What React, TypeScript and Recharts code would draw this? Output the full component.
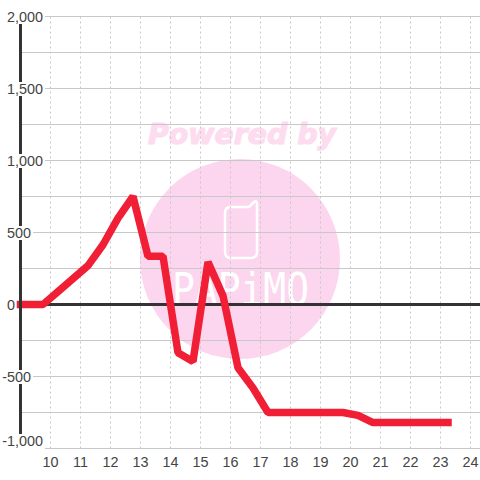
import React from "react";
import {
  LineChart,
  Line,
  XAxis,
  YAxis,
  CartesianGrid,
  ReferenceLine,
} from "recharts";

const hours = [
  9, 9.75, 10.25, 10.75, 11.25, 11.75, 12.25, 12.75, 13.25, 13.75, 14.25, 14.75,
  15.25, 15.75, 16.25, 16.75, 17.25, 17.75, 18.25, 18.75, 19.25, 19.75, 20.25,
  20.75, 21.25, 21.75, 22.25, 22.75, 23.25,
];
const balance = [
  0, 0, 90, 180, 270, 415, 600, 750, 335, 335, -335, -395, 295, 60, -440, -580,
  -750, -750, -750, -750, -750, -750, -770, -820, -820, -820, -820, -820, -820,
];
const xTicks = [10, 11, 12, 13, 14, 15, 16, 17, 18, 19, 20, 21, 22, 23, 24];
const yTicks = [
  -1000, -750, -500, -250, 0, 250, 500, 750, 1000, 1250, 1500, 1750, 2000,
];
const yLabels = [-1000, -500, 0, 500, 1000, 1500, 2000];

const data = hours.map((hour, i) => ({ hour, balance: balance[i] }));

const FONT = "'Liberation Sans', Arial, sans-serif";

const YTick = ({ y, payload }: any) => {
  const value = payload.value;
  if (!yLabels.includes(value)) return null;
  const text = value.toLocaleString("en-US");
  const digits = text.replace(/[^0-9]/g, "").length;
  const width = digits * 8 + (text.includes(",") ? 4 : 0);
  const cy = value === -1000 ? y - 7.5 : y + 0.5;
  return (
    <g>
      {value !== 0 && (
        <rect
          x={0}
          y={cy - 7}
          width={7 + width + 2}
          height={value === -1000 ? 15 : 14}
          fill='#fff'
        />
      )}
      <text
        x={value < 0 ? 2.2 : 7}
        y={cy + 5}
        fontFamily={FONT}
        fontSize={14.4}
        fill='#444'
        textAnchor='start'
      >
        {text}
      </text>
    </g>
  );
};

const Watermark = () => (
  <svg
    width={480}
    height={480}
    style={{ position: "absolute", left: 0, top: 0 }}
  >
    <circle cx={240} cy={259} r={100} fill='#fcd6ee' />
    <text
      x={148}
      y={144}
      fontFamily="'DejaVu Sans'"
      fontWeight='bold'
      fontStyle='italic'
      fontSize={28}
      textLength={188}
      lengthAdjust='spacingAndGlyphs'
      fill='#fddcef'
      stroke='#fddcef'
      strokeWidth={1.2}
    >
      Powered by
    </text>
    <path
      d='M231 207 H249 L254 202 Q257 200 257 204 V252 Q257 258 251 258 H231 Q225 258 225 252 V213 Q225 207 231 207 Z'
      fill='none'
      stroke='#fff'
      strokeWidth={2.5}
    />
    <text
      x={172}
      y={305}
      fontFamily="'DejaVu Sans Mono'"
      fontSize={44}
      textLength={137}
      lengthAdjust='spacingAndGlyphs'
      fill='#fff'
    >
      PAPiMO
    </text>
  </svg>
);

const App = () => {
  return (
    <div
      style={{
        position: "absolute",
        left: 0,
        top: 0,
        width: 480,
        height: 480,
        background: "#fff",
      }}
    >
      <Watermark />
      <div style={{ position: "absolute", left: 0, top: 0 }}>
        <LineChart
          width={480}
          height={480}
          data={data}
          margin={{ top: 16.5, right: 0, left: 0, bottom: 0 }}
        >
          <CartesianGrid
            vertical={false}
            stroke='#c8c8c8'
            horizontalValues={yTicks}
          />
          <CartesianGrid
            horizontal={false}
            stroke='#c8c8c8'
            strokeDasharray='2 3'
            verticalValues={xTicks}
          />
          <XAxis
            type='number'
            dataKey='hour'
            domain={[9, 24.317]}
            ticks={xTicks}
            interval={0}
            height={31.5}
            axisLine={false}
            tickLine={false}
            tick={{ fontFamily: FONT, fontSize: 14.4, fill: "#444", dy: 0 }}
          />
          <YAxis
            type='number'
            domain={[-1000, 2000]}
            ticks={yTicks}
            interval={0}
            width={20.5}
            tickLine={false}
            axisLine={{ stroke: "#333", strokeWidth: 3 }}
            tick={<YTick />}
          />
          <ReferenceLine y={0} stroke='#333' strokeWidth={3} />
          <Line
            type='linear'
            dataKey='balance'
            stroke='#f01f35'
            strokeWidth={7.5}
            strokeLinecap='square'
            strokeLinejoin='bevel'
            dot={false}
            activeDot={false}
            isAnimationActive={false}
          />
        </LineChart>
      </div>
    </div>
  );
};

export default App;
